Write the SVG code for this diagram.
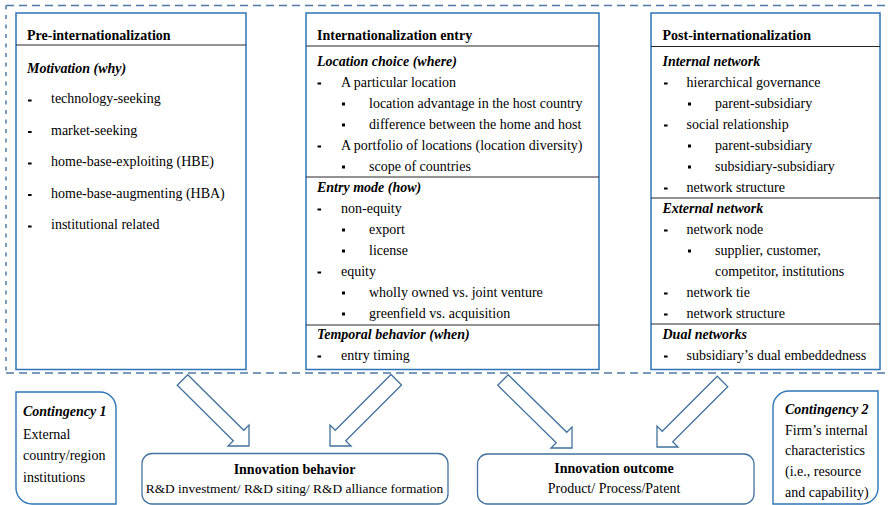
<svg xmlns="http://www.w3.org/2000/svg" width="889" height="505" viewBox="0 0 889 505">
<style>
.t{font-family:"Liberation Serif","Times New Roman",serif;font-size:14px;fill:#000}
.b{font-weight:bold}
.bi{font-weight:bold;font-style:italic}
.box{fill:#fff;stroke:#2E75B6;stroke-width:1.5}
.cbox{fill:#fff;stroke:#2E75B6;stroke-width:1.4}
.rbox{fill:#fff;stroke:#41719C;stroke-width:1.3}
.div{stroke:#262626;stroke-width:1}
.dash{fill:none;stroke:#4F7AA6;stroke-width:1.5}
.arrow{fill:#fff;stroke:#41719C;stroke-width:1.3;stroke-linejoin:miter}
.m{fill:#000}
.mid{text-anchor:middle}
.sm{font-size:13.4px}
</style>
<defs>
<rect id="d" width="3.6" height="2" class="m"/>
<rect id="s" width="3" height="3" class="m"/>
</defs>

<g id="frame">
<line class="dash" x1="6" y1="5.5" x2="892" y2="5.5" stroke-dasharray="8,5"/>
<line class="dash" x1="6" y1="373" x2="892" y2="373" stroke-dasharray="8,5"/>
<line class="dash" x1="6" y1="5.5" x2="6" y2="373" stroke-dasharray="4,5.5"/>
</g>

<g id="pre">
<rect class="box" x="16" y="13" width="230" height="356.5"/>
<line class="div" x1="16" y1="45" x2="246" y2="45"/>
<text class="t b" x="27" y="40">Pre-internationalization</text>
<text class="t bi" x="27" y="73">Motivation (why)</text>
<use href="#d" x="28" y="99.5"/><text class="t" x="51" y="103">technology-seeking</text>
<use href="#d" x="28" y="131"/><text class="t" x="51" y="134.5">market-seeking</text>
<use href="#d" x="28" y="162.5"/><text class="t" x="51" y="166">home-base-exploiting (HBE)</text>
<use href="#d" x="28" y="194"/><text class="t" x="51" y="197.5">home-base-augmenting (HBA)</text>
<use href="#d" x="28" y="225.5"/><text class="t" x="51" y="229">institutional related</text>
</g>

<g id="entry">
<rect class="box" x="306" y="13" width="293" height="356.5"/>
<line class="div" x1="306" y1="46" x2="599" y2="46"/>
<line class="div" x1="306" y1="177" x2="599" y2="177"/>
<line class="div" x1="306" y1="325" x2="599" y2="325"/>
<text class="t b" x="317" y="40">Internationalization entry</text>
<text class="t bi" x="317" y="65.5">Location choice (where)</text>
<use href="#d" x="317.5" y="82.5"/><text class="t" x="341" y="86.5">A particular location</text>
<use href="#s" x="342" y="102.5"/><text class="t" x="369" y="107.5">location advantage in the host country</text>
<use href="#s" x="342" y="123.5"/><text class="t" x="369" y="128.5">difference between the home and host</text>
<use href="#d" x="317.5" y="145.5"/><text class="t" x="341" y="149.5">A portfolio of locations (location diversity)</text>
<use href="#s" x="342" y="165.5"/><text class="t" x="369" y="170.5">scope of countries</text>
<text class="t bi" x="317" y="191.5">Entry mode (how)</text>
<use href="#d" x="317.5" y="208.5"/><text class="t" x="341" y="212.5">non-equity</text>
<use href="#s" x="342" y="228.5"/><text class="t" x="369" y="233.5">export</text>
<use href="#s" x="342" y="249.5"/><text class="t" x="369" y="254.5">license</text>
<use href="#d" x="317.5" y="271.5"/><text class="t" x="341" y="275.5">equity</text>
<use href="#s" x="342" y="291.5"/><text class="t" x="369" y="296.5">wholly owned vs. joint venture</text>
<use href="#s" x="342" y="312.5"/><text class="t" x="369" y="317.5">greenfield vs. acquisition</text>
<text class="t bi" x="317" y="338.5">Temporal behavior (when)</text>
<use href="#d" x="317.5" y="355.5"/><text class="t" x="341" y="359.5">entry timing</text>
</g>

<g id="post">
<rect class="box" x="651" y="13" width="229" height="356.5"/>
<line class="div" x1="651" y1="46.5" x2="880" y2="46.5"/>
<line class="div" x1="651" y1="198" x2="880" y2="198"/>
<line class="div" x1="651" y1="324" x2="880" y2="324"/>
<text class="t b" x="662.5" y="40">Post-internationalization</text>
<text class="t bi" x="662.5" y="65.5">Internal network</text>
<use href="#d" x="664" y="82.5"/><text class="t" x="686.5" y="86.5">hierarchical governance</text>
<use href="#s" x="688" y="102.5"/><text class="t" x="715" y="107.5">parent-subsidiary</text>
<use href="#d" x="664" y="124.5"/><text class="t" x="686.5" y="128.5">social relationship</text>
<use href="#s" x="688" y="144.5"/><text class="t" x="715" y="149.5">parent-subsidiary</text>
<use href="#s" x="688" y="165.5"/><text class="t" x="715" y="170.5">subsidiary-subsidiary</text>
<use href="#d" x="664" y="187.5"/><text class="t" x="686.5" y="191.5">network structure</text>
<text class="t bi" x="662.5" y="212.5">External network</text>
<use href="#d" x="664" y="229.5"/><text class="t" x="686.5" y="233.5">network node</text>
<use href="#s" x="688" y="249.5"/><text class="t" x="715" y="254.5">supplier, customer,</text>
<text class="t" x="715" y="275.5">competitor, institutions</text>
<use href="#d" x="664" y="292.5"/><text class="t" x="686.5" y="296.5">network tie</text>
<use href="#d" x="664" y="313.5"/><text class="t" x="686.5" y="317.5">network structure</text>
<text class="t bi" x="662.5" y="338.5">Dual networks</text>
<use href="#d" x="664" y="355.5"/><text class="t" x="686.5" y="359.5">subsidiary’s dual embeddedness</text>
</g>

<g id="connectors">
<path class="arrow" d="M187.75,374.75 L243.75,430.25 L249,425 L249,446 L228,446 L233.25,440.75 L177.25,385.25 Z"/>
<path class="arrow" d="M391,374.5 L335.25,430.25 L330,425 L330,446 L351,446 L345.75,440.75 L401.5,385 Z"/>
<path class="arrow" d="M508.25,374.75 L566.75,432.25 L572,427 L572,448 L551,448 L556.25,442.75 L497.75,385.25 Z"/>
<path class="arrow" d="M717.25,376.25 L662.25,431.25 L657,426 L657,447 L678,447 L672.75,441.75 L727.75,386.75 Z"/>
</g>

<g id="contingency1">
<path class="cbox" d="M16,392 H100 A16,16 0 0 1 116,408 V504 H32 A16,16 0 0 1 16,488 Z"/>
<text class="t bi" x="23" y="416">Contingency 1</text>
<text class="t" x="23" y="438.5">External</text>
<text class="t" x="23" y="460">country/region</text>
<text class="t" x="23" y="481.5">institutions</text>
</g>

<g id="contingency2">
<path class="cbox" d="M789,391 H878 V488 A16,16 0 0 1 862,504 H773 V407 A16,16 0 0 1 789,391 Z"/>
<text class="t bi" x="785" y="414">Contingency 2</text>
<text class="t" x="785" y="434.5">Firm’s internal</text>
<text class="t" x="785" y="455">characteristics</text>
<text class="t" x="785" y="476">(i.e., resource</text>
<text class="t" x="785" y="497">and capability)</text>
</g>

<g id="behavior">
<rect class="rbox" x="142" y="453.5" width="306" height="50.5" rx="10"/>
<text class="t b mid" x="294.5" y="473.5">Innovation behavior</text>
<text class="t sm mid" x="294.5" y="493">R&amp;D investment/ R&amp;D siting/ R&amp;D alliance formation</text>
</g>

<g id="outcome">
<rect class="rbox" x="477.5" y="454" width="276.5" height="50" rx="10"/>
<text class="t b mid" x="614" y="473">Innovation outcome</text>
<text class="t mid" x="614" y="493">Product/ Process/Patent</text>
</g>
</svg>
